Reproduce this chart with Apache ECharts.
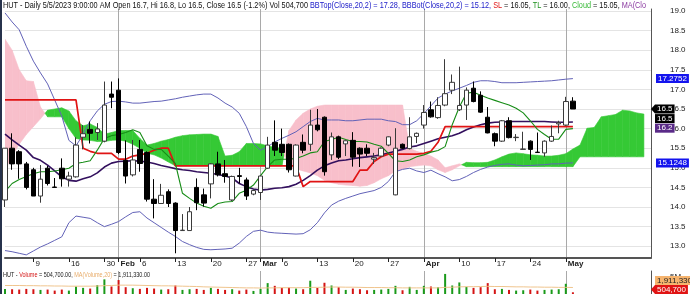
<!DOCTYPE html>
<html><head><meta charset="utf-8">
<script src="https://cdn.jsdelivr.net/npm/echarts@6/dist/echarts.min.js"></script>
<style>html,body{margin:0;padding:0;background:#fff;overflow:hidden}#c{width:690px;height:294px}</style>
</head><body><div id="c"></div>
<script>
// ---- categories / tick labels ----
const slotCount = 92;
const slots = Array.from({length: slotCount}, (_, i) => 'd' + i);
const tickText = {4:"9",9:"16",14:"30",16:"Feb",19:"6",24:"13",29:"20",34:"27",36:"Mar",39:"6",44:"13",49:"20",54:"27",59:"Apr",64:"10",69:"17",74:"24",79:"May"};
const monthNames = ["Feb","Mar","Apr","May"];

// ---- OHLC ----
const open = [
14.18,15.5,15.41,15.1,14.95,14.28,14.99,14.51,14.99,14.71,
14.77,15.78,15.98,15.9,15.68,16.88,16.98,15.19,14.82,15.47,
15.39,14.2,14.09,14.39,14.1,13.4,13.4,14.5,14.31,14.59,
15.1,14.85,14.18,14.8,14.69,14.33,14.37,14.99,15.65,15.6,
15.6,14.79,15.65,15.6,16.09,16.29,15.33,15.79,15.61,15.7,
15.5,15.5,15.22,15.3,15.58,14.31,15.6,15.49,15.8,16.09,
16.48,16.28,16.6,16.98,16.48,16.6,17.03,16.85,16.29,15.87,
15.68,16.2,15.77,15.47,15.68,15.4,15.38,15.68,16.12,16.09,
16.7];
const close = [
15.5,15.1,15.1,14.5,14.28,14.71,14.6,14.5,14.72,14.79,
15.58,15.87,15.88,15.99,16.6,16.8,15.39,14.79,15.2,15.11,
14.2,14.09,14.3,14.09,13.4,13.41,13.88,14.11,14.1,15.1,
14.82,14.78,14.78,14.78,14.28,14.42,14.79,15.58,15.45,15.39,
14.95,15.58,15.45,16.09,15.97,14.9,15.79,15.27,15.69,15.27,
15.35,15.37,15.26,15.5,15.79,15.5,15.5,15.79,15.88,16.41,
16.3,16.59,16.89,17.18,16.59,16.98,16.69,16.42,15.89,15.68,
16.2,15.77,15.78,15.48,15.47,15.39,15.68,15.8,16.15,16.69,
16.5];
const low = [
14.0,14.95,14.72,14.45,14.28,14.11,14.55,14.5,14.52,14.52,
14.75,15.47,15.62,15.71,15.65,16.52,15.35,14.6,14.78,14.9,
14.14,13.71,14.08,14.0,12.82,13.4,13.4,13.92,14.01,14.22,
14.78,14.62,14.15,14.6,14.18,14.3,14.18,14.97,15.3,15.3,
14.88,14.78,15.37,15.43,15.93,14.8,15.2,15.22,15.3,15.03,
15.02,15.3,15.1,15.28,15.55,14.3,15.48,15.47,15.63,16.0,
16.28,16.25,16.57,16.88,16.45,16.22,16.67,16.4,15.88,15.55,
15.66,15.75,15.68,15.46,15.2,15.38,15.28,15.66,15.88,16.07,
16.5];
const high = [
15.5,15.88,15.45,15.15,15.0,15.07,15.05,14.74,15.24,14.9,
15.78,16.09,16.18,16.14,17.2,17.2,17.28,15.7,15.71,15.71,
15.42,14.71,14.59,14.45,14.12,13.82,14.0,14.73,14.47,15.12,
15.41,15.2,14.8,15.0,14.75,14.45,14.8,15.79,16.21,16.0,
15.62,15.6,15.85,16.48,16.5,16.31,15.9,15.82,15.7,15.91,
15.52,15.6,15.38,15.52,15.8,16.01,15.62,16.29,15.9,16.6,
16.69,16.8,17.77,17.38,17.58,17.05,17.2,16.95,16.55,15.9,
16.22,16.29,15.86,15.92,15.7,15.9,15.7,16.08,16.2,16.81,
16.8];

// ---- indicators ----
const bbTop = [
18.95,18.72,18.52,18.1,17.72,17.42,17.14,16.73,16.32,15.7,
15.56,15.85,16.2,16.45,16.62,16.69,16.7,16.68,16.65,16.65,
16.67,16.69,16.7,16.73,16.76,16.8,16.83,16.86,16.88,16.88,
16.78,16.65,16.55,16.39,16.05,15.62,15.45,15.54,15.66,15.75,
15.83,15.92,16.05,16.18,16.26,16.22,16.22,16.22,16.2,16.2,
16.22,16.24,16.24,16.24,16.2,16.18,16.1,16.1,16.2,16.38,
16.58,16.78,16.88,16.96,17.03,17.1,17.18,17.22,17.22,17.2,
17.17,17.17,17.17,17.18,17.19,17.2,17.21,17.22,17.24,17.26,
17.2752];
const bbBot = [
12.89,12.86,12.82,12.78,12.88,12.98,13.06,13.15,13.24,13.6,
13.77,13.74,13.71,13.6,13.5,13.56,13.63,13.75,13.86,13.88,
13.72,13.6,13.48,13.36,13.25,13.12,13.04,12.97,12.92,12.91,
12.92,12.93,12.95,13.08,13.25,13.38,13.41,13.36,13.34,13.33,
13.32,13.31,13.32,13.42,13.6,13.85,14.05,14.15,14.22,14.28,
14.34,14.38,14.42,14.5,14.65,14.9,14.96,14.99,14.92,14.88,
14.94,14.85,14.77,14.67,14.7,14.78,14.88,14.96,15.02,15.06,
15.09,15.1,15.07,15.05,15.06,15.07,15.08,15.1,15.1,15.12,
15.1248];
const maClose = [
15.86,15.71,15.58,15.45,15.26,15.19,15.07,14.92,14.77,14.68,
14.66,14.72,14.77,14.87,15.02,15.12,15.16,15.17,15.18,15.17,
15.15,15.11,15.06,15.02,14.98,14.95,14.93,14.9,14.88,14.86,
14.83,14.79,14.74,14.6,14.52,14.46,14.43,14.45,14.48,14.49,
14.52,14.58,14.68,14.8,14.94,15.05,15.12,15.18,15.2,15.23,
15.26,15.28,15.3,15.33,15.38,15.42,15.47,15.53,15.56,15.62,
15.68,15.74,15.78,15.82,15.88,15.97,16.04,16.1,16.14,16.16,
16.17,16.18,16.18,16.18,16.18,16.18,16.18,16.17,16.16,16.16,
16.17];
const standardLine = [
16.73,16.73,16.73,16.73,16.73,16.73,16.73,16.73,16.73,16.73,
16.73,15.5,15.42,15.37,15.37,15.37,15.22,15.22,15.3,15.33,
15.37,15.45,15.5,15.5,15.05,15.05,15.05,15.05,15.05,15.05,
15.05,15.05,15.05,15.05,15.05,15.05,15.05,15.05,15.05,15.05,
15.05,15.05,14.52,14.65,14.65,14.65,14.65,14.65,14.65,14.65,
14.94,14.94,15.16,15.28,15.35,15.35,15.35,15.35,15.35,15.37,
15.42,15.65,16.05,16.05,16.05,16.05,16.05,16.05,16.05,16.05,
16.05,16.05,16.05,16.05,16.05,16.05,16.05,16.05,16.05,16.05,
16.05];
const turningLine = [
14.39,14.6,14.7,14.78,14.85,14.9,14.9,14.92,14.95,14.99,
15.11,15.14,15.18,15.45,15.75,15.82,15.85,15.9,15.97,15.9,
15.56,15.47,15.47,15.3,15.11,14.35,14.22,14.1,14.02,13.97,
14.09,14.13,14.14,14.35,14.43,14.56,14.8,15.03,15.2,15.22,
15.22,15.24,15.3,15.38,15.41,15.67,15.72,15.78,15.72,15.67,
15.67,15.66,15.6,15.55,15.37,15.18,15.16,15.2,15.28,15.33,
15.4,15.44,15.54,16.1,16.55,16.9,16.93,16.85,16.78,16.72,
16.66,16.6,16.52,16.4,16.2,15.98,15.85,15.73,15.73,15.98,
16.0];
const spanA = [
14.94,15.3,15.6,15.85,16.05,16.25,16.47,16.5,16.53,16.45,
16.2,16.07,16.12,16.03,15.86,15.9,15.95,15.95,15.95,15.75,
15.58,15.62,15.68,15.72,15.78,15.82,15.84,15.85,15.86,15.86,
15.8,15.3,15.32,15.41,15.62,15.62,15.61,15.56,15.52,15.5,
15.0,14.97,14.92,14.87,14.8,14.68,14.62,14.58,14.56,14.55,
14.53,14.55,14.62,14.72,14.8,14.92,14.97,15.03,15.05,15.07,
15.05,14.95,14.88,14.95,15.05,15.14,15.13,15.13,15.14,15.2,
15.28,15.35,15.38,15.36,15.33,15.32,15.3,15.3,15.32,15.36,
15.48,15.58,16.01,16.03,16.3,16.33,16.36,16.47,16.45,16.4,
16.37];
const spanB = [
18.28,18.0,17.5,17.22,17.2,16.55,16.3,16.3,16.3,16.0,
15.75,15.71,15.7,15.67,15.67,15.7,15.71,15.68,15.6,15.5,
15.37,15.33,15.25,15.15,15.05,15.05,15.05,15.05,15.05,15.05,
15.05,15.05,15.05,15.05,15.05,15.05,15.05,15.05,15.05,15.05,
15.95,16.22,16.39,16.5,16.57,16.6,16.6,16.6,16.6,16.6,
16.6,16.6,16.6,16.6,16.6,16.6,16.6,15.5,15.42,15.37,
15.3,15.2,15.0,15.05,15.1,15.03,15.03,15.03,15.03,15.03,
15.03,15.03,15.03,15.03,15.03,15.03,15.03,15.03,15.03,15.03,
15.03,15.28,15.28,15.28,15.28,15.28,15.28,15.28,15.28,15.28,
15.28];

// ---- volume (millions) ----
const volume = [
1.5,1.4,1.3,1.5,1.4,1.2,1.3,1.0,1.3,1.0,
2.2,1.8,1.6,2.6,4.3,2.2,4.1,2.0,1.7,1.5,
1.8,1.6,1.3,1.4,2.5,1.2,1.4,1.5,1.2,1.8,
1.5,1.2,1.4,1.0,1.3,0.9,1.5,3.2,2.4,1.8,
1.9,1.6,1.4,3.9,1.8,3.3,2.5,2.0,1.2,1.6,
1.4,1.1,1.2,1.3,1.5,2.4,1.1,2.1,1.2,2.4,
2.2,2.0,5.9,2.5,3.4,2.1,1.8,2.0,3.2,1.4,
1.5,1.2,1.0,1.1,1.3,1.0,1.2,1.3,1.4,3.0,
0.5047];
const volumeMA = [
2.5,2.5,2.5,2.45,2.45,2.4,2.4,2.35,2.35,2.3,
2.3,2.3,2.3,2.35,2.45,2.5,2.6,2.6,2.6,2.55,
2.5,2.45,2.4,2.4,2.35,2.3,2.25,2.2,2.1,2.05,
2.0,1.95,1.9,1.85,1.8,1.8,1.75,1.8,1.8,1.85,
1.85,1.85,1.85,1.95,1.95,2.0,2.05,2.05,2.0,2.0,
1.95,1.9,1.9,1.9,1.85,1.85,1.8,1.8,1.8,1.8,
1.8,1.8,1.95,2.0,2.1,2.15,2.15,2.2,2.25,2.2,
2.2,2.15,2.1,2.1,2.05,2.05,2.0,2.0,1.95,1.95,
1.91133];

const FF = '"Liberation Sans", Arial, Helvetica, sans-serif';
const GREEN = '#35c935', PINK = '#f8bfcb';
const hasTick = (i) => tickText[i] !== undefined;
const isMonth = (i) => monthNames.indexOf(tickText[i]) >= 0;

const chart = echarts.init(document.getElementById('c'), null, {renderer: 'canvas', width: 690, height: 294});

const cloudData = spanA.slice(0, -1).map((a, i) => [i, a, spanB[i], spanA[i + 1], spanB[i + 1]]);
const hideColor = 'rgba(0,0,0,0)';

chart.setOption({
  animation: false,
  backgroundColor: '#ffffff',
  grid: [
    {left: 5, right: 39, top: 9, height: 249, outerBoundsMode: 'none', containLabel: false},
    {left: 5, right: 39, top: 271, height: 23, outerBoundsMode: 'none', containLabel: false}
  ],
  xAxis: [
    {type: 'category', gridIndex: 0, data: slots, boundaryGap: false,
     axisLine: {show: true, lineStyle: {color: '#555', width: 2}},
     axisTick: {show: true, interval: (i) => hasTick(i), length: 4, lineStyle: {color: '#222'}},
     axisLabel: {show: true, interval: (i) => hasTick(i), align: 'left', margin: 2, padding: [0, 0, 0, 2],
       fontSize: 8, fontFamily: FF, color: '#222',
       formatter: (v, i) => { const t = tickText[i] || ''; return isMonth(i) ? '{m|' + t + '}' : t; },
       rich: {m: {fontWeight: 'bold', fontSize: 8, fontFamily: FF, color: '#222'}}},
     splitLine: {show: true, interval: (i) => isMonth(i), lineStyle: {color: '#a9a9a9', width: 1}}},
    {type: 'category', gridIndex: 1, data: slots, boundaryGap: false, position: 'top',
     axisLine: {show: true, lineStyle: {color: '#999', width: 1}},
     axisTick: {show: false}, axisLabel: {show: false},
     splitLine: {show: true, interval: (i) => isMonth(i), lineStyle: {color: '#a9a9a9', width: 1}}}
  ],
  yAxis: [
    {type: 'value', gridIndex: 0, position: 'right', min: 12.7, max: 19.05, interval: 0.1,
     axisLine: {show: true, lineStyle: {color: '#555', width: 1}},
     axisTick: {show: false},
     axisLabel: {margin: 19, fontSize: 8, fontFamily: FF, color: '#222',
       formatter: (v) => { const r = Math.round(v * 10); return r % 5 === 0 ? (r / 10).toFixed(1) : ''; }},
     splitLine: {show: true, lineStyle: {color: [hideColor, hideColor, hideColor, '#e4e4e4', hideColor], width: 1}}},
    {type: 'value', gridIndex: 1, position: 'right', min: 0, max: 6.76, interval: 5,
     axisLine: {show: true, lineStyle: {color: '#555', width: 1}},
     axisTick: {show: false},
     axisLabel: {margin: 19, fontSize: 8, fontFamily: FF, color: '#222', formatter: (v) => v === 5 ? '5M' : ''},
     splitLine: {show: false}}
  ],
  series: [
    {type: 'custom', name: 'Cloud', xAxisIndex: 0, yAxisIndex: 0, z: 1, silent: true, clip: true,
     data: cloudData, encode: {x: 0, y: [1, 2, 3, 4]},
     renderItem: (params, api) => {
       const i = api.value(0);
       const a0 = api.value(1), b0 = api.value(2), a1 = api.value(3), b1 = api.value(4);
       const pA0 = api.coord([i, a0]), pB0 = api.coord([i, b0]);
       const pA1 = api.coord([i + 1, a1]), pB1 = api.coord([i + 1, b1]);
       const d0 = a0 - b0, d1 = a1 - b1;
       const col = (d) => d >= 0 ? GREEN : PINK;
       const poly = (pts, c) => ({type: 'polygon', shape: {points: pts}, style: {fill: c, stroke: c, lineWidth: 0.6}});
       if (d0 * d1 >= 0) return poly([pA0, pA1, pB1, pB0], col(d0 !== 0 ? d0 : d1));
       const t = d0 / (d0 - d1);
       const pc = [pA0[0] + t * (pA1[0] - pA0[0]), pA0[1] + t * (pA1[1] - pA0[1])];
       return {type: 'group', children: [poly([pA0, pc, pB0], col(d0)), poly([pc, pA1, pB1], col(d1))]};
     }},
    {type: 'line', name: 'BBTop', data: bbTop, showSymbol: false, symbol: 'none', z: 2, silent: true,
     lineStyle: {color: '#6262b8', width: 1}},
    {type: 'line', name: 'BBBot', data: bbBot, showSymbol: false, symbol: 'none', z: 2, silent: true,
     lineStyle: {color: '#6262b8', width: 1}},
    {type: 'line', name: 'MA', data: maClose, showSymbol: false, symbol: 'none', z: 3, silent: true,
     lineStyle: {color: '#33105e', width: 1.6}},
    {type: 'line', name: 'SL', data: standardLine, showSymbol: false, symbol: 'none', z: 3, silent: true,
     lineStyle: {color: '#e01414', width: 1.7}},
    {type: 'line', name: 'TL', data: turningLine, showSymbol: false, symbol: 'none', z: 3, silent: true,
     lineStyle: {color: '#168c16', width: 1.1}},
    {type: 'candlestick', name: 'HUT', z: 5, barWidth: 5, clip: false, silent: true,
     data: open.map((o, i) => [o, close[i], low[i], high[i]]),
     itemStyle: {color: '#ffffff', color0: '#000000', borderColor: '#3a3a3a', borderColor0: '#000000', borderWidth: 1}},
    {type: 'bar', name: 'Volume', xAxisIndex: 1, yAxisIndex: 1, data: volume, barWidth: 2, silent: true,
     itemStyle: {color: (p) => close[p.dataIndex] >= open[p.dataIndex] ? '#1a9a1a' : '#d41414'}},
    {type: 'line', name: 'VolMA', xAxisIndex: 1, yAxisIndex: 1, data: volumeMA, showSymbol: false, symbol: 'none', silent: true,
     lineStyle: {color: '#f0c58e', width: 1}}
  ]
});

// ---- texts / value boxes ----
const ctx = document.createElement('canvas').getContext('2d');
function measure(txt, size, weight) { ctx.font = (weight || 'normal') + ' ' + size + 'px ' + FF; return ctx.measureText(txt).width; }

const hdrSize = 8.5;
const hdrPrefix = 'HUT - Daily 5/5/2023 9:00:00 AM Open 16.7, Hi 16.8, Lo 16.5, Close 16.5 (-1.2%) Vol 504,700 ';
const hdrScale = 307 / measure(hdrPrefix, hdrSize);
const rs = (c) => ({fill: c, color: c, fontSize: hdrSize, fontFamily: FF});
const headerText = '{k|' + hdrPrefix + '}{b|BBTop(Close,20,2) = 17.28, BBBot(Close,20,2) = 15.12, }{r|SL}{k| = 16.05, }{g|TL}{k| = 16.00, }{c|Cloud}{k| = 15.05, }{p|MA(Close,20) = 16.17}';

const volSize = 7.5;
const volHdr = 'HUT - Volume = 504,700.00, MA(Volume,20) = 1,911,330.00';
const volScale = 147 / measure(volHdr, volSize);
const vs = (c) => ({fill: c, color: c, fontSize: volSize, fontFamily: FF});

const yP = (v) => chart.convertToPixel({yAxisIndex: 0}, v);
const yV = (v) => chart.convertToPixel({yAxisIndex: 1}, v);
function box(x, yc, txt, bg, fg, arrow) {
  const els = [{type: 'text', x: x, y: yc, z: 100,
    style: {text: txt, fill: fg, font: '8px ' + FF, backgroundColor: bg, padding: [1, 2, 0, 2], verticalAlign: 'middle', lineHeight: 8}}];
  if (arrow) els.push({type: 'polygon', z: 100, shape: {points: [[x - 4, yc], [x, yc - 4.5], [x, yc + 4.5]]}, style: {fill: bg}});
  return els;
}
const last = close.length - 1;
const fmtInt = (v) => Math.round(v * 1e6).toLocaleString('en-US');
const yClose = yP(close[last]);
const yVol = Math.min(yV(volume[last]), 289.5);

const graphics = [
  {type: 'rect', z: 100, shape: {x: 0, y: 0, width: 2, height: 294}, style: {fill: '#27324c'}},
  {type: 'text', x: 3, y: 6, scaleX: hdrScale, z: 100,
   style: {text: headerText, verticalAlign: 'middle', fontSize: hdrSize, fontFamily: FF, fill: '#111',
     width: 644 / hdrScale, overflow: 'truncate', ellipsis: '',
     rich: {k: rs('#111111'), b: rs('#1818c8'), r: rs('#e01414'), g: rs('#1f921f'), c: rs('#36b836'), p: rs('#8b3aa0')}}},
  {type: 'text', x: 3, y: 274.5, scaleX: volScale, z: 100,
   style: {text: '{k|HUT - }{r|Volume}{k| = 504,700.00, }{o|MA(Volume,20)}{k| = 1,911,330.00}', verticalAlign: 'middle',
     fontSize: volSize, fontFamily: FF, fill: '#222',
     rich: {k: vs('#222222'), r: vs('#d41414'), o: vs('#e8ac6a')}}}
]
.concat(box(656, yP(bbTop[last]), bbTop[last].toFixed(4), '#1414ee', '#ffffff', false))
.concat(box(655, yClose, close[last].toFixed(1), '#000000', '#ffffff', true))
.concat(box(655, yClose + 9.6, close[last].toFixed(1), '#000000', '#ffffff', false))
.concat(box(655, yClose + 19.2, maClose[last].toFixed(1), '#5a2a88', '#ffffff', false))
.concat(box(656, yP(bbBot[last]), bbBot[last].toFixed(4), '#1414ee', '#ffffff', false))
.concat(box(655, yVol - 9, fmtInt(volumeMA[last]), '#f6b46e', '#222222', false))
.concat(box(655, yVol, fmtInt(volume[last]), '#e01414', '#ffffff', true));

chart.setOption({graphic: graphics});
</script>
</body></html>
